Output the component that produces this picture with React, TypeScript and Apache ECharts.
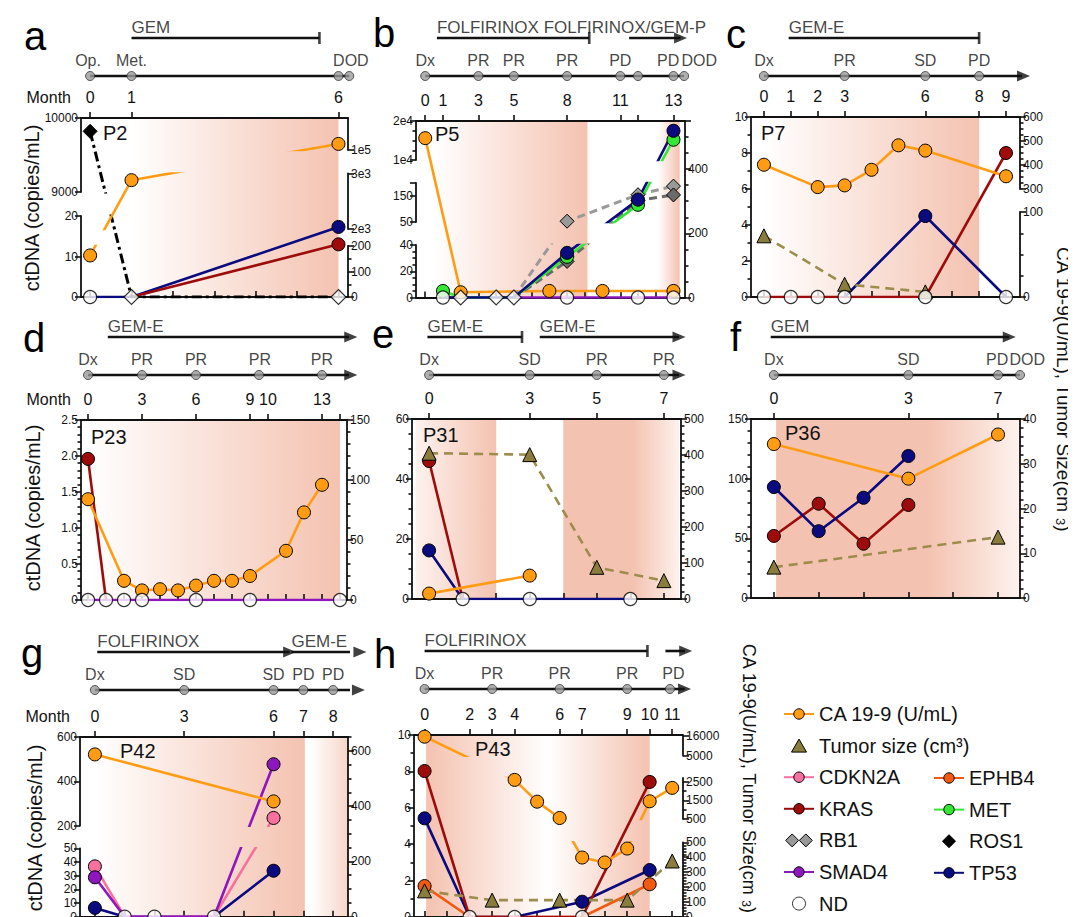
import React, { useEffect, useRef } from 'react';
import * as echarts from 'echarts';

type Pt = [number, number];
type Seg = { min: number; max: number; top: number; bottom: number; ticks: number[]; texts?: string[]; minor?: number };
type Shade = { from: number; to: number; stops: [number, string][] };
type SSpec = { name: string; side: 'L' | 'R'; data: Pt[]; color?: string; solid?: boolean };
type Treat = { from: number; to: number; text?: string; end: 'cap' | 'arrow' };
type Panel = {
  letter: string; lx: number; ly: number; pid: string; px: number; py: number;
  L: number; R: number; T: number; B: number; xmin: number; xmax: number; TL: number;
  monthTicks: number[]; monthAt: number[]; monthText: string[]; monthName: boolean; bottomTicks: number[];
  left: Seg[]; right: Seg[]; shades: Shade[]; series: SSpec[]; nd: number[]; ndDiamond?: number[];
  dots: number[]; status: [number, string][]; lineTo: number; lineArrow: boolean; treats: Treat[];
};

const FONT = 'Arial, "Liberation Sans", Helvetica, sans-serif';
const INK = '#111111';
const SALMON = '#f4c2b0';
const WHITE = '#ffffff';

const N_CA = 'CA 19-9 (U/mL)';
const N_TUM = 'Tumor size (cm³)';
const N_CDKN2A = 'CDKN2A';
const N_EPHB4 = 'EPHB4';
const N_KRAS = 'KRAS';
const N_MET = 'MET';
const N_RB1 = 'RB1';
const N_ROS1 = 'ROS1';
const N_SMAD4 = 'SMAD4';
const N_TP53 = 'TP53';
const N_ND = 'ND';

const STYLE: Record<string, { color: string; line?: string; symbol: string; size: number; dash?: any; width?: number }> = {
  [N_CA]: { color: '#ff9c14', symbol: 'circle', size: 13 },
  [N_TUM]: { color: '#8a7c3c', line: '#9c8d4d', symbol: 'triangle', size: 14, dash: [9, 6] },
  [N_CDKN2A]: { color: '#f7709e', symbol: 'circle', size: 13 },
  [N_EPHB4]: { color: '#f25a12', symbol: 'circle', size: 13 },
  [N_KRAS]: { color: '#9e0b0b', symbol: 'circle', size: 13 },
  [N_MET]: { color: '#33e833', symbol: 'circle', size: 13 },
  [N_RB1]: { color: '#999999', symbol: 'diamond', size: 14, dash: [8, 5], width: 3 },
  [N_ROS1]: { color: '#000000', symbol: 'diamond', size: 14, dash: [10, 4, 3, 4], width: 3 },
  [N_SMAD4]: { color: '#8e16bd', symbol: 'circle', size: 13 },
  [N_TP53]: { color: '#0b0b80', symbol: 'circle', size: 13 },
};

// ---------- Panel a (P2) ----------
const aMonths = [0, 1, 6];
const aMonthText = ['0', '1', '6'];
const aLeftLo = [0, 10, 20];
const aLeftHi = [9000, 10000];
const aRightLo = [0, 100, 200];
const aRightMid = [2000, 3000];
const aRightMidText = ['2e3', '3e3'];
const aRightHi = [100000];
const aRightHiText = ['1e5'];
const aCA: Pt[] = [[0, 163], [1, 2880], [6, 119000]];
const aROS1: Pt[] = [[0, 9820], [1, 0], [6, 0]];
const aTP53: Pt[] = [[0, 0], [1, 0], [6, 17.3]];
const aKRAS: Pt[] = [[1, 0], [6, 13]];
const aND = [0];
const aNDd = [1, 6];
const aDots = [0, 1, 6, 6.26];
const aStatus: [number, string][] = [[-0.05, 'Op.'], [1, 'Met.'], [6.3, 'DOD']];

// ---------- Panel b (P5) ----------
const bMonthTicks = [0, 1, 3, 5, 8, 11, 12, 14];
const bMonthAt = [0, 1, 3, 5, 8, 11, 14];
const bMonthText = ['0', '1', '3', '5', '8', '11', '13'];
const bLeftLo = [0, 20, 40];
const bLeftMid = [50, 150, 200];
const bLeftMidText = ['50', '150', ''];
const bLeftHi = [10000, 20000];
const bLeftHiText = ['1e4', '2e4'];
const bRight = [0, 200, 400, 550];
const bRightText = ['0', '200', '400', ''];
const bCA: Pt[] = [[0, 15600], [2, 4], [7, 5], [10, 5], [14, 5]];
const bSMAD4: Pt[] = [[1, 0], [14, 0]];
const bRB1a: Pt[] = [[5, 0], [8, 53], [12, 155], [14, 188]];
const bRB1b: Pt[] = [[5, 0], [8, 27.5], [12, 133], [14, 154]];
const bMET: Pt[] = [[1, 5], [2, 0], [5, 0], [8, 31], [12, 116], [14, 15200]];
const bTP53: Pt[] = [[1, 0], [5, 0], [8, 34], [12, 136], [14, 17500]];
const bND = [1, 8, 12, 14];
const bNDd = [2, 4, 5];
const bDots = [0, 3, 5, 8, 11, 12, 14, 14.6];
const bStatus: [number, string][] = [[0, 'Dx'], [3, 'PR'], [5, 'PR'], [8, 'PR'], [11, 'PD'], [13.7, 'PD'], [15.45, 'DOD']];

// ---------- Panel c (P7) ----------
const cMonths = [0, 1, 2, 3, 6, 8, 9];
const cMonthText = ['0', '1', '2', '3', '6', '8', '9'];
const cLeft = [0, 2, 4, 6, 8, 10];
const cRightLo = [0, 100];
const cRightHi = [300, 400, 500, 600];
const cCA: Pt[] = [[0, 401], [2, 308], [3, 315], [4, 380], [5, 482], [6, 460], [9, 353]];
const cTumor: Pt[] = [[0, 72], [3, 15], [6, 6]];
const cTP53: Pt[] = [[3, 0], [6, 4.5], [9, 0]];
const cKRAS: Pt[] = [[0, 0], [6, 0], [9, 8]];
const cND = [0, 1, 2, 3, 6, 9];
const cDots = [0, 3, 6, 8];
const cStatus: [number, string][] = [[0, 'Dx'], [3, 'PR'], [6, 'SD'], [8, 'PD']];

// ---------- Panel d (P23) ----------
const dMonthTicks = [0, 3, 6, 9, 10, 13, 14];
const dMonthAt = [0, 3, 6, 9, 10, 13];
const dMonthText = ['0', '3', '6', '9', '10', '13'];
const dLeft = [0, 0.5, 1, 1.5, 2, 2.5];
const dLeftText = ['0', '0.5', '1.0', '1.5', '2.0', '2.5'];
const dRight = [0, 50, 100, 150];
const dCA: Pt[] = [[0, 84], [2, 16], [3, 8], [4, 9], [5, 8], [6, 12], [7, 16], [8, 16], [9, 20], [11, 41], [12, 73], [13, 96]];
const dKRAS: Pt[] = [[0, 1.96], [1, 0]];
const dSMAD4: Pt[] = [[0, 0], [14, 0]];
const dND = [0, 1, 2, 3, 6, 9, 14];
const dDots = [0, 3, 6, 9.5, 13];
const dStatus: [number, string][] = [[0, 'Dx'], [3, 'PR'], [6, 'PR'], [9.55, 'PR'], [13, 'PR']];

// ---------- Panel e (P31) ----------
const eMonths = [0, 3, 5, 7];
const eMonthText = ['0', '3', '5', '7'];
const eLeft = [0, 20, 40, 60];
const eRight = [0, 100, 200, 300, 400, 500];
const eTumor: Pt[] = [[0, 405], [3, 401], [5, 88], [7, 51]];
const eKRAS: Pt[] = [[0, 46], [1, 0]];
const eTP53: Pt[] = [[0, 16.2], [1, 0], [6, 0]];
const eCA: Pt[] = [[0, 15], [3, 65]];
const eND = [1, 3, 6];
const eDots = [0, 3, 5, 7];
const eStatus: [number, string][] = [[0, 'Dx'], [3, 'SD'], [5, 'PR'], [7, 'PR']];

// ---------- Panel f (P36) ----------
const fMonths = [0, 3, 5];
const fMonthText = ['0', '3', '7'];
const fLeft = [0, 50, 100, 150];
const fRight = [0, 10, 20, 30, 40];
const fCA: Pt[] = [[0, 129], [3, 100], [5, 137]];
const fTP53: Pt[] = [[0, 93], [1, 56], [2, 84], [3, 119]];
const fKRAS: Pt[] = [[0, 52], [1, 79], [2, 45.5], [3, 78]];
const fTumor: Pt[] = [[0, 6.9], [5, 13.6]];
const fDots = [0, 3, 5, 5.49];
const fStatus: [number, string][] = [[0, 'Dx'], [3, 'SD'], [4.98, 'PD'], [5.65, 'DOD']];

// ---------- Panel g (P42) ----------
const gMonths = [0, 3, 6, 7, 8];
const gMonthText = ['0', '3', '6', '7', '8'];
const gLeftLo = [0, 10, 20, 30, 40, 50];
const gLeftHi = [200, 400, 600];
const gRight = [0, 200, 400, 600];
const gCA: Pt[] = [[0, 587], [6, 417]];
const gSMAD4: Pt[] = [[0, 28.8], [1, 0], [4, 0], [6, 477]];
const gCDKN2A: Pt[] = [[0, 36.8], [1, 0], [4, 0], [6, 235]];
const gTP53: Pt[] = [[0, 6.4], [1, 0], [4, 0], [6, 33.6]];
const gND = [1, 2, 4];
const gDots = [0, 3, 6, 7, 8];
const gStatus: [number, string][] = [[0, 'Dx'], [3, 'SD'], [6, 'SD'], [7, 'PD'], [8, 'PD']];

// ---------- Panel h (P43) ----------
const hMonths = [0, 2, 3, 4, 6, 7, 9, 10, 11];
const hMonthText = ['0', '2', '3', '4', '6', '7', '9', '10', '11'];
const hLeft = [0, 2, 4, 6, 8, 10];
const hRightLo = [0, 100, 200, 300, 400, 500];
const hRightMid = [500, 1500, 2500];
const hRightHi = [5000, 16000];
const hCA: Pt[] = [[0, 15450], [4, 2600], [5, 1430], [6, 554], [7, 398], [8, 365], [9, 458], [10, 1450], [11, 2170]];
const hKRAS: Pt[] = [[0, 8.02], [2, 0], [7, 0], [10, 7.42]];
const hTP53: Pt[] = [[0, 5.42], [2, 0], [4, 0], [7, 0.84], [10, 2.58]];
const hEPHB4: Pt[] = [[0, 1.7], [2, 0], [7, 0], [10, 1.8]];
const hTumor: Pt[] = [[0, 175], [3, 113], [6, 113], [9, 113], [11, 375]];
const hND = [2, 4, 7];
const hDots = [0, 3, 6, 9, 10.9];
const hStatus: [number, string][] = [[0, 'Dx'], [3, 'PR'], [6, 'PR'], [9, 'PR'], [11.05, 'PD']];

const LEGEND_LEFT = [N_CA, N_TUM, N_CDKN2A, N_KRAS, N_RB1, N_SMAD4, N_ND];
const LEGEND_RIGHT = [N_EPHB4, N_MET, N_ROS1, N_TP53];

const range = (a: number, b: number) => { const r: number[] = []; for (let i = a; i <= b; i++) r.push(i); return r; };
const fade = (c0: string, c1: string): [number, string][] => [[0, c0], [1, c1]];

const PANELS: Panel[] = [
  {
    letter: 'a', lx: 16, ly: 28, pid: 'P2', px: 95, py: 125,
    L: 73, R: 340, T: 110, B: 289, xmin: -0.22, xmax: 6.23, TL: 68,
    monthTicks: aMonths, monthAt: aMonths, monthText: aMonthText, monthName: true, bottomTicks: range(0, 6),
    left: [
      { min: 0, max: 20, top: 208, bottom: 289, ticks: aLeftLo },
      { min: 9000, max: 10000, top: 110, bottom: 184, ticks: aLeftHi },
    ],
    right: [
      { min: 0, max: 200, top: 238, bottom: 289, ticks: aRightLo, minor: 50 },
      { min: 2000, max: 3000, top: 165.5, bottom: 221, ticks: aRightMid, texts: aRightMidText },
      { min: 100000, max: 200000, top: 110, bottom: 142, ticks: aRightHi, texts: aRightHiText },
    ],
    shades: [{ from: 1, to: 6, stops: fade(WHITE, SALMON) }],
    series: [
      { name: N_TP53, side: 'L', data: aTP53 }, { name: N_KRAS, side: 'L', data: aKRAS },
      { name: N_CA, side: 'R', data: aCA }, { name: N_ROS1, side: 'L', data: aROS1 },
    ],
    nd: aND, ndDiamond: aNDd, dots: aDots, status: aStatus, lineTo: 6.26, lineArrow: false,
    treats: [{ from: 1, to: 5.54, text: 'GEM', end: 'cap' }],
  },
  {
    letter: 'b', lx: 365, ly: 25, pid: 'P5', px: 427, py: 126,
    L: 408, R: 677, T: 113, B: 289.5, xmin: -0.52, xmax: 14.65, TL: 68,
    monthTicks: bMonthTicks, monthAt: bMonthAt, monthText: bMonthText, monthName: false, bottomTicks: range(0, 14),
    left: [
      { min: 0, max: 40, top: 237, bottom: 289.5, ticks: bLeftLo, minor: 5 },
      { min: 50, max: 200, top: 175, bottom: 214, ticks: bLeftMid, texts: bLeftMidText },
      { min: 10000, max: 20000, top: 113, bottom: 152, ticks: bLeftHi, texts: bLeftHiText, minor: 2500 },
    ],
    right: [{ min: 0, max: 550, top: 113, bottom: 289.5, ticks: bRight, texts: bRightText, minor: 50 }],
    shades: [{ from: 0.45, to: 9.15, stops: fade(WHITE, SALMON) }, { from: 13.1, to: 14.35, stops: fade(WHITE, SALMON) }],
    series: [
      { name: N_SMAD4, side: 'L', data: bSMAD4 }, { name: N_CA, side: 'L', data: bCA, solid: true },
      { name: N_RB1, side: 'L', data: bRB1a }, { name: N_RB1, side: 'L', data: bRB1b, color: '#6a6a6a' },
      { name: N_MET, side: 'L', data: bMET }, { name: N_TP53, side: 'L', data: bTP53 },
    ],
    nd: bND, ndDiamond: bNDd, dots: bDots, status: bStatus, lineTo: 14.6, lineArrow: false,
    treats: [
      { from: 0.66, to: 9.25, text: 'FOLFIRINOX FOLFIRINOX/GEM-P', end: 'cap' },
      { from: 11.5, to: 14.4, end: 'arrow' },
    ],
  },
  {
    letter: 'c', lx: 718, ly: 26, pid: 'P7', px: 753, py: 125,
    L: 743, R: 1012, T: 109, B: 289, xmin: -0.48, xmax: 9.52, TL: 68,
    monthTicks: cMonths, monthAt: cMonths, monthText: cMonthText, monthName: false, bottomTicks: range(0, 9),
    left: [{ min: 0, max: 10, top: 109, bottom: 289, ticks: cLeft, minor: 1 }],
    right: [
      { min: 0, max: 100, top: 204, bottom: 289, ticks: cRightLo, minor: 25 },
      { min: 300, max: 600, top: 109, bottom: 181, ticks: cRightHi, minor: 25 },
    ],
    shades: [{ from: 0, to: 8, stops: fade(WHITE, SALMON) }],
    series: [
      { name: N_KRAS, side: 'L', data: cKRAS }, { name: N_TP53, side: 'L', data: cTP53 },
      { name: N_TUM, side: 'R', data: cTumor }, { name: N_CA, side: 'R', data: cCA },
    ],
    nd: cND, dots: cDots, status: cStatus, lineTo: 9.65, lineArrow: true,
    treats: [{ from: 0.92, to: 8, text: 'GEM-E', end: 'cap' }],
  },
  {
    letter: 'd', lx: 15, ly: 330, pid: 'P23', px: 83, py: 429,
    L: 73, R: 339, T: 412, B: 592, xmin: -0.39, xmax: 14.39, TL: 367,
    monthTicks: dMonthTicks, monthAt: dMonthAt, monthText: dMonthText, monthName: true, bottomTicks: range(0, 14),
    left: [{ min: 0, max: 2.5, top: 412, bottom: 592, ticks: dLeft, texts: dLeftText, minor: 0.1 }],
    right: [{ min: 0, max: 150, top: 412, bottom: 592, ticks: dRight, minor: 10 }],
    shades: [{ from: 0, to: 14, stops: fade(WHITE, SALMON) }],
    series: [
      { name: N_SMAD4, side: 'L', data: dSMAD4 }, { name: N_KRAS, side: 'L', data: dKRAS },
      { name: N_CA, side: 'R', data: dCA },
    ],
    nd: dND, dots: dDots, status: dStatus, lineTo: 14.6, lineArrow: true,
    treats: [{ from: 1.1, to: 14.6, text: 'GEM-E', end: 'arrow' }],
  },
  {
    letter: 'e', lx: 364, ly: 326, pid: 'P31', px: 415, py: 427,
    L: 404, R: 673, T: 411, B: 591, xmin: -0.51, xmax: 7.51, TL: 367,
    monthTicks: eMonths, monthAt: eMonths, monthText: eMonthText, monthName: false, bottomTicks: range(0, 7),
    left: [{ min: 0, max: 60, top: 411, bottom: 591, ticks: eLeft, minor: 5 }],
    right: [{ min: 0, max: 500, top: 411, bottom: 591, ticks: eRight, minor: 20 }],
    shades: [
      { from: -0.4, to: 2, stops: fade('#fdf2ee', SALMON) },
      { from: 4, to: 7.45, stops: [[0, SALMON], [0.6, SALMON], [1, '#fdf1ec']] },
    ],
    series: [
      { name: N_TP53, side: 'L', data: eTP53 }, { name: N_KRAS, side: 'L', data: eKRAS },
      { name: N_TUM, side: 'R', data: eTumor }, { name: N_CA, side: 'R', data: eCA },
    ],
    nd: eND, dots: eDots, status: eStatus, lineTo: 7.45, lineArrow: true,
    treats: [
      { from: -0.05, to: 2.77, text: 'GEM-E', end: 'cap' },
      { from: 3.3, to: 7.45, text: 'GEM-E', end: 'arrow' },
    ],
  },
  {
    letter: 'f', lx: 722, ly: 329, pid: 'P36', px: 777, py: 425,
    L: 743, R: 1012, T: 411, B: 590, xmin: -0.51, xmax: 5.49, TL: 367,
    monthTicks: fMonths, monthAt: fMonths, monthText: fMonthText, monthName: false, bottomTicks: range(0, 5),
    left: [{ min: 0, max: 150, top: 411, bottom: 590, ticks: fLeft, minor: 10 }],
    right: [{ min: 0, max: 40, top: 411, bottom: 590, ticks: fRight, minor: 2 }],
    shades: [{ from: 0.05, to: 5.49, stops: [[0, SALMON], [0.62, SALMON], [1, '#fdf2ee']] }],
    series: [
      { name: N_TUM, side: 'R', data: fTumor }, { name: N_KRAS, side: 'L', data: fKRAS },
      { name: N_TP53, side: 'L', data: fTP53 }, { name: N_CA, side: 'L', data: fCA },
    ],
    nd: [], dots: fDots, status: fStatus, lineTo: 5.49, lineArrow: false,
    treats: [{ from: -0.07, to: 5.25, text: 'GEM', end: 'arrow' }],
  },
  {
    letter: 'g', lx: 13, ly: 645, pid: 'P42', px: 112, py: 743,
    L: 72, R: 340, T: 729, B: 908.7, xmin: -0.5, xmax: 8.5, TL: 682,
    monthTicks: gMonths, monthAt: gMonths, monthText: gMonthText, monthName: true, bottomTicks: range(0, 8),
    left: [
      { min: 0, max: 50, top: 840.3, bottom: 908.7, ticks: gLeftLo },
      { min: 200, max: 600, top: 729, bottom: 817.7, ticks: gLeftHi },
    ],
    right: [{ min: 0, max: 650, top: 729, bottom: 908.7, ticks: gRight, minor: 50 }],
    shades: [{ from: 0, to: 7.05, stops: fade(WHITE, SALMON) }, { from: 7.25, to: 8.5, stops: fade(WHITE, '#f7d5c8') }],
    series: [
      { name: N_TP53, side: 'L', data: gTP53 }, { name: N_CDKN2A, side: 'L', data: gCDKN2A },
      { name: N_SMAD4, side: 'L', data: gSMAD4 }, { name: N_CA, side: 'R', data: gCA },
    ],
    nd: gND, dots: gDots, status: gStatus, lineTo: 8.85, lineArrow: true,
    treats: [
      { from: 0.08, to: 6.54, text: 'FOLFIRINOX', end: 'arrow' },
      { from: 6.6, to: 8.9, text: 'GEM-E', end: 'arrow' },
    ],
  },
  {
    letter: 'h', lx: 366, ly: 646, pid: 'P43', px: 467, py: 741,
    L: 406, R: 675, T: 727, B: 909, xmin: -0.47, xmax: 11.48, TL: 681,
    monthTicks: hMonths, monthAt: hMonths, monthText: hMonthText, monthName: false, bottomTicks: range(0, 11),
    left: [{ min: 0, max: 10, top: 727, bottom: 909, ticks: hLeft, minor: 1 }],
    right: [
      { min: 0, max: 500, top: 834.3, bottom: 909, ticks: hRightLo, minor: 20 },
      { min: 500, max: 2700, top: 770, bottom: 811, ticks: hRightMid, minor: 500 },
      { min: 5000, max: 16000, top: 727.7, bottom: 747.7, ticks: hRightHi },
    ],
    shades: [{ from: 0.07, to: 5.5, stops: fade(SALMON, WHITE) }, { from: 5.5, to: 10, stops: fade(WHITE, SALMON) }],
    series: [
      { name: N_TUM, side: 'R', data: hTumor }, { name: N_EPHB4, side: 'L', data: hEPHB4 },
      { name: N_TP53, side: 'L', data: hTP53 }, { name: N_KRAS, side: 'L', data: hKRAS },
      { name: N_CA, side: 'R', data: hCA },
    ],
    nd: hND, dots: hDots, status: hStatus, lineTo: 11.55, lineArrow: true,
    treats: [
      { from: 0, to: 9.9, text: 'FOLFIRINOX', end: 'cap' },
      { from: 10.7, to: 11.6, end: 'arrow' },
    ],
  },
];

// piecewise (broken) axis: value -> pixel
function pixOf(v: number, segs: Seg[]): number {
  const lin = (s: Seg, x: number) => s.bottom - ((x - s.min) / (s.max - s.min)) * (s.bottom - s.top);
  if (v <= segs[0].max) return lin(segs[0], v);
  for (let i = 0; i < segs.length; i++) {
    const s = segs[i];
    if (v >= s.min && v <= s.max) return lin(s, v);
    const n = segs[i + 1];
    if (n && v > s.max && v < n.min) {
      const t = (v - s.max) / (n.min - s.max);
      return s.top + t * (n.bottom - s.top);
    }
  }
  return lin(segs[segs.length - 1], v);
}
function toSeg(v: number, segs: Seg[], s: Seg): number {
  const y = pixOf(v, segs);
  return s.min + ((s.bottom - y) / (s.bottom - s.top)) * (s.max - s.min);
}
function lookup(at: number[], texts: string[] | undefined, v: number): string {
  const i = at.findIndex((t) => Math.abs(t - v) <= 1e-7 * Math.max(1, Math.abs(t)));
  if (i < 0) return '';
  return texts ? texts[i] : String(at[i]);
}

function lineSeries(sp: SSpec, xi: number, yi: number, ymap: (v: number) => number, clip: boolean) {
  const st = STYLE[sp.name];
  const color = sp.color || st.color;
  return {
    type: 'line', name: sp.name, xAxisIndex: xi, yAxisIndex: yi, z: 3, clip,
    symbol: st.symbol, symbolSize: st.size,
    itemStyle: { color, borderColor: '#000', borderWidth: 1 },
    lineStyle: { color: sp.color || st.line || color, width: st.width || 2.6, type: st.dash || 'solid' },
    emphasis: { disabled: true },
    data: sp.data.map(([x, v]) => ({ value: [x, ymap(v)], symbol: v === 0 ? 'none' : st.symbol })),
  };
}

function buildOption() {
  const grid: any[] = [];
  const xAxis: any[] = [];
  const yAxis: any[] = [];
  const series: any[] = [];
  const graphic: any[] = [];
  const axisLine = { show: true, onZero: false, lineStyle: { color: INK, width: 1.8 } };
  const tickLine = { color: INK, width: 1.6 };

  for (const p of PANELS) {
    const W = p.R - p.L;
    const addGrid = (top: number, height: number) => {
      grid.push({ left: p.L, top, width: W, height, outerBoundsMode: 'none', containLabel: false });
      return grid.length - 1;
    };
    const hiddenX = (gi: number) => {
      xAxis.push({ gridIndex: gi, type: 'value', min: p.xmin, max: p.xmax, show: false, axisLine: { onZero: false } });
      return xAxis.length - 1;
    };
    const hiddenY = (gi: number, min: number, max: number, inverse = false) => {
      yAxis.push({ gridIndex: gi, type: 'value', min, max, inverse, show: false, axisLine: { onZero: false } });
      return yAxis.length - 1;
    };

    // ---- main frame ----
    const gm = addGrid(p.T, p.B - p.T);
    xAxis.push({
      gridIndex: gm, type: 'value', min: p.xmin, max: p.xmax, position: 'bottom', z: 1,
      axisLine, axisTick: { show: true, inside: true, length: 6, customValues: p.bottomTicks, lineStyle: tickLine },
      axisLabel: { show: false }, splitLine: { show: false },
    });
    const xb = xAxis.length - 1;
    xAxis.push({
      gridIndex: gm, type: 'value', min: p.xmin, max: p.xmax, position: 'top', z: 1,
      axisLine, axisTick: { show: true, inside: false, length: 6, customValues: p.monthTicks, lineStyle: tickLine },
      axisLabel: {
        show: true, customValues: p.monthAt, formatter: (v: number) => lookup(p.monthAt, p.monthText, v),
        fontSize: 16, color: INK, fontFamily: FONT, margin: 13,
      },
      splitLine: { show: false },
      name: p.monthName ? 'Month' : '', nameLocation: 'start', nameGap: 10, nameMoveOverlap: false,
      nameTextStyle: { fontSize: 16, color: INK, fontFamily: FONT, align: 'right', verticalAlign: 'bottom', padding: [0, 0, 13, 0] },
    });
    const ym = hiddenY(gm, 0, 1);
    const shades = p.shades;
    series.push({
      type: 'custom', xAxisIndex: xb, yAxisIndex: ym, z: 0, silent: true, clip: false,
      data: shades.map((s, i) => [s.from, s.to, i]),
      renderItem: (params: any, api: any) => {
        const s = shades[params.dataIndex];
        const a = api.coord([s.from, 1]);
        const b = api.coord([s.to, 0]);
        return {
          type: 'rect',
          shape: { x: a[0], y: a[1], width: b[0] - a[0], height: b[1] - a[1] },
          style: { fill: new echarts.graphic.LinearGradient(0, 0, 1, 0, s.stops.map(([o, c]) => ({ offset: o, color: c }))) },
        };
      },
    });
    // series drawn unbroken through the axis gaps (panel-wide fraction scale)
    for (const sp of p.series.filter((x) => x.solid)) {
      const segs = sp.side === 'L' ? p.left : p.right;
      series.push(lineSeries(sp, xb, ym, (v) => (p.B - pixOf(v, segs)) / (p.B - p.T), false));
    }

    // ---- timeline above the frame ----
    const ROW_DOT = 60, ROW_STATUS = 44, ROW_BAR = 22, ROW_TEXT = 11;
    const gt = addGrid(p.TL - 60, 70);
    const xt = hiddenX(gt);
    const yt = hiddenY(gt, 0, 70, true);
    const tl = (o: any) => series.push({ xAxisIndex: xt, yAxisIndex: yt, silent: true, clip: false, z: 3, ...o });
    tl({ type: 'line', data: [[0, ROW_DOT], [p.lineTo, ROW_DOT]], symbol: 'none', lineStyle: { color: INK, width: 2.6 } });
    if (p.lineArrow) {
      tl({ type: 'scatter', data: [[p.lineTo, ROW_DOT]], symbol: 'triangle', symbolRotate: -90, symbolSize: [11, 13], itemStyle: { color: INK } });
    }
    tl({
      type: 'scatter', z: 4, data: p.dots.map((d) => [d, ROW_DOT]), symbol: 'circle', symbolSize: 9,
      itemStyle: { color: '#9b9b9b', borderColor: '#333', borderWidth: 1 },
    });
    tl({
      type: 'scatter', data: p.status.map(([x, t]) => ({ value: [x, ROW_STATUS], name: t })), symbolSize: 1,
      itemStyle: { color: 'rgba(0,0,0,0)' },
      label: { show: true, position: 'inside', formatter: '{b}', fontSize: 16, color: INK, fontFamily: FONT },
    });
    for (const t of p.treats) {
      tl({ type: 'line', data: [[t.from, ROW_BAR], [t.to, ROW_BAR]], symbol: 'none', lineStyle: { color: INK, width: 2.6 } });
      if (t.end === 'cap') {
        tl({ type: 'scatter', data: [[t.to, ROW_BAR]], symbol: 'rect', symbolSize: [2.6, 12], itemStyle: { color: INK } });
      } else {
        tl({ type: 'scatter', data: [[t.to, ROW_BAR]], symbol: 'triangle', symbolRotate: -90, symbolSize: [11, 13], itemStyle: { color: INK } });
      }
      if (t.text) {
        tl({
          type: 'scatter', data: [{ value: [t.from, ROW_TEXT], name: t.text }], symbolSize: 1,
          itemStyle: { color: 'rgba(0,0,0,0)' },
          label: { show: true, position: 'inside', align: 'left', formatter: '{b}', fontSize: 17, color: INK, fontFamily: FONT },
        });
      }
    }

    // ---- broken y axes with their series ----
    const sides: ['L' | 'R', Seg[]][] = [['L', p.left], ['R', p.right]];
    for (const [side, segs] of sides) {
      segs.forEach((s, si) => {
        const g = addGrid(s.top, s.bottom - s.top);
        const xi = hiddenX(g);
        const pos = side === 'L' ? 'left' : 'right';
        yAxis.push({
          gridIndex: g, type: 'value', min: s.min, max: s.max, position: pos, z: 1,
          axisLine, axisTick: { show: true, inside: false, length: 6, customValues: s.ticks, lineStyle: tickLine },
          axisLabel: {
            show: true, customValues: s.ticks, formatter: (v: number) => lookup(s.ticks, s.texts, v),
            fontSize: 12, lineHeight: 12, color: INK, fontFamily: FONT, margin: 3,
          },
          splitLine: { show: false },
        });
        const yi = yAxis.length - 1;
        if (s.minor) {
          const minorVals: number[] = [];
          const step = s.minor;
          for (let k = Math.ceil(s.min / step - 1e-9); k * step <= s.max + 1e-9; k++) {
            const v = +(k * step).toFixed(6);
            if (!s.ticks.some((t) => Math.abs(t - v) < 1e-9 * Math.max(1, Math.abs(t)))) minorVals.push(v);
          }
          yAxis.push({
            gridIndex: g, type: 'value', min: s.min, max: s.max, position: pos, z: 1,
            axisLine: { show: false, onZero: false },
            axisTick: { show: true, inside: false, length: 3.5, customValues: minorVals, lineStyle: tickLine },
            axisLabel: { show: false }, splitLine: { show: false },
          });
        }
        for (const sp of p.series.filter((x) => x.side === side && !x.solid)) {
          series.push(lineSeries(sp, xi, yi, (v) => toSeg(v, segs, s), true));
        }
        if (side === 'L' && si === 0) {
          if (p.nd.length) {
            series.push({
              type: 'scatter', name: N_ND, xAxisIndex: xi, yAxisIndex: yi, z: 5, clip: false,
              symbol: 'circle', symbolSize: 13, itemStyle: { color: WHITE, borderColor: '#000', borderWidth: 1.2 },
              data: p.nd.map((x) => [x, 0]),
            });
          }
          if (p.ndDiamond && p.ndDiamond.length) {
            series.push({
              type: 'scatter', name: N_ND, xAxisIndex: xi, yAxisIndex: yi, z: 5, clip: false,
              symbol: 'diamond', symbolSize: 15, itemStyle: { color: WHITE, borderColor: '#000', borderWidth: 1.2 },
              data: p.ndDiamond.map((x) => [x, 0]),
            });
          }
        }
      });
    }

    graphic.push({ type: 'text', x: p.lx, y: p.ly, style: { text: p.letter, fontSize: 40, fontFamily: FONT, fill: '#000', align: 'left', verticalAlign: 'middle' } });
    graphic.push({ type: 'text', x: p.px, y: p.py, z: 10, style: { text: p.pid, fontSize: 20, fontFamily: FONT, fill: INK, align: 'left', verticalAlign: 'middle' } });
  }

  const ctdna = (x: number, y: number) => ({
    type: 'text', x, y, rotation: Math.PI / 2,
    style: { text: 'ctDNA (copies/mL)', fontSize: 20, fontFamily: FONT, fill: INK, align: 'center', verticalAlign: 'middle' },
  });
  const ca = (x: number, y: number, size: number) => ({
    type: 'text', x, y, rotation: -Math.PI / 2,
    style: {
      text: 'CA 19-9(U/mL), Tumor Size(cm {s|3})', fontSize: size, fontFamily: FONT, fill: INK, align: 'center', verticalAlign: 'middle',
      rich: { s: { fontSize: size - 6, fontFamily: FONT, fill: INK, verticalAlign: 'bottom', padding: [6, 0, 0, 0] } },
    },
  });
  graphic.push(ctdna(24, 200), ctdna(25, 500), ctdna(27, 820), ca(1055, 381, 19), ca(741, 770, 18));

  const ICONS: Record<string, string> = {
    [N_TUM]: 'path://M6,0L12,10.4L0,10.4Z',
    [N_RB1]: 'path://M0,5L5,0L10,5L5,10ZM10.5,5L15.5,0L20.5,5L15.5,10Z',
    [N_ROS1]: 'path://M5,0L10,5L5,10L0,5Z',
    [N_ND]: 'circle',
  };
  const legendBase = {
    orient: 'vertical', itemWidth: 30, itemHeight: 13, itemGap: 11.6, selectedMode: false, symbolKeepAspect: true,
    itemStyle: { borderWidth: 1 },
    textStyle: { fontSize: 20, fontFamily: FONT, color: INK, lineHeight: 20 },
  };
  const legend = [
    { ...legendBase, left: 770, top: 691, data: LEGEND_LEFT.map((n) => (ICONS[n] ? { name: n, icon: ICONS[n] } : { name: n })) },
    { ...legendBase, left: 920, top: 755, data: LEGEND_RIGHT.map((n) => (ICONS[n] ? { name: n, icon: ICONS[n] } : { name: n })) },
  ];

  return {
    animation: false,
    backgroundColor: '#ffffff',
    textStyle: { fontFamily: FONT },
    tooltip: { show: false },
    grid, xAxis, yAxis, series, graphic, legend,
  };
}

export default function App() {
  const ref = useRef<HTMLDivElement>(null);
  useEffect(() => {
    if (!ref.current) return;
    const chart = echarts.init(ref.current, undefined, { renderer: 'svg' });
    chart.setOption(buildOption() as any);
    return () => chart.dispose();
  }, []);
  return <div ref={ref} style={{ position: 'fixed', left: 0, top: 0, width: 1076, height: 917, background: '#fff' }} />;
}
